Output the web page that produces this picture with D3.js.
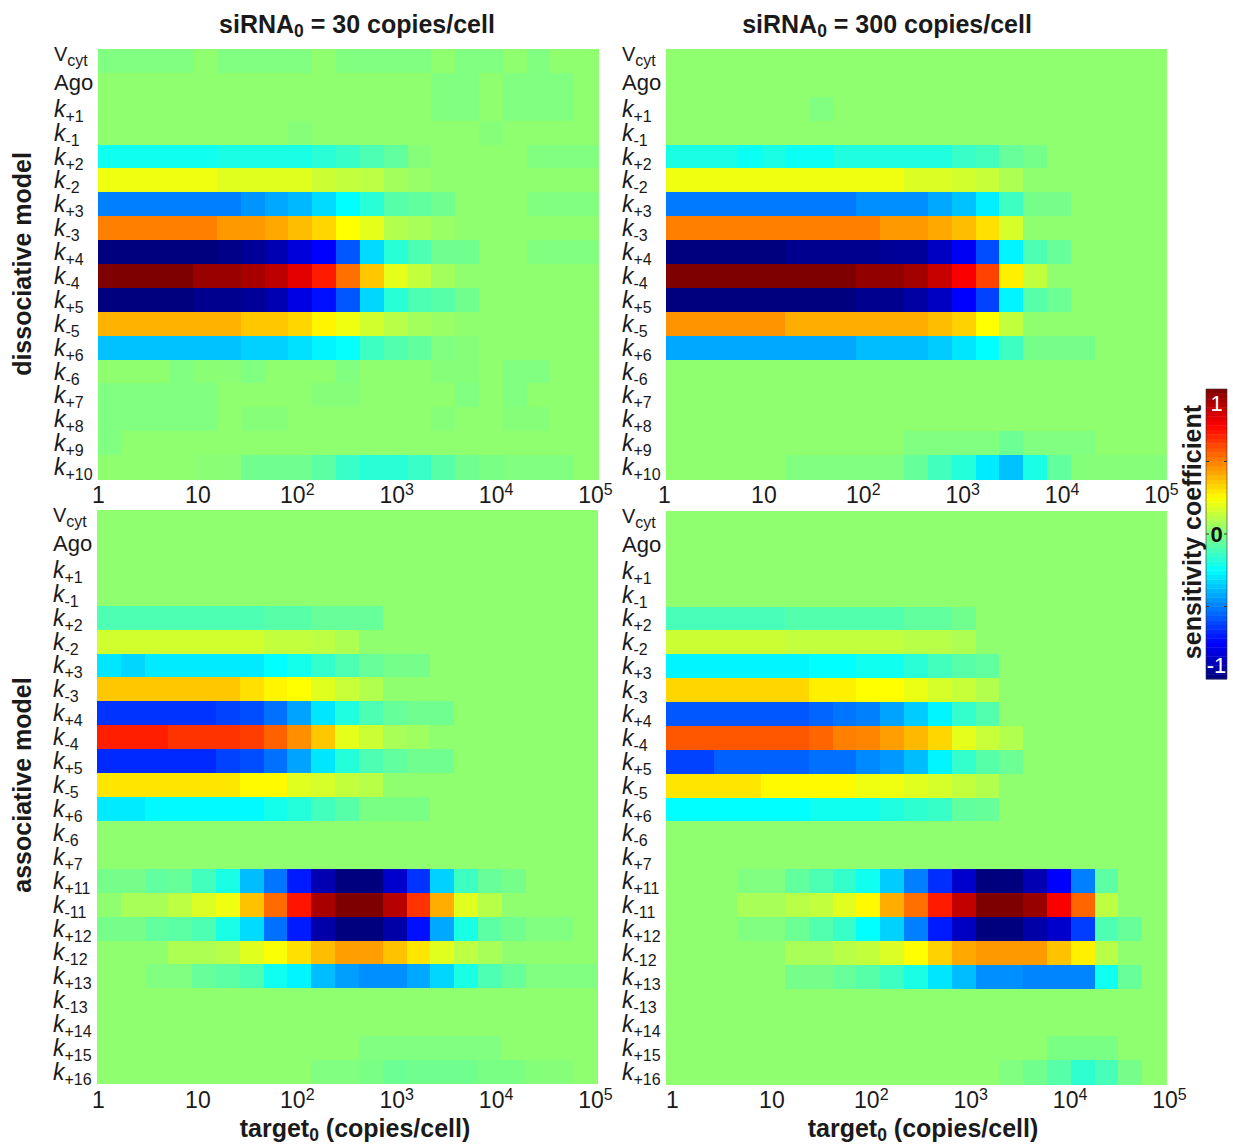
<!DOCTYPE html>
<html>
<head>
<meta charset="utf-8">
<script src="https://cdn.jsdelivr.net/npm/d3@7"></script>
<style>
  body { margin: 0; background: #fff; }
  text { font-family: "Liberation Sans", Arial, sans-serif; fill: #1a1a1a; }
</style>
</head>
<body>
<script>
// row labels: [base, sign/sub, italic?]
const dissocRows = ['Vcyt', 'Ago', 'k+1', 'k-1', 'k+2', 'k-2', 'k+3', 'k-3', 'k+4', 'k-4', 'k+5', 'k-5', 'k+6', 'k-6', 'k+7', 'k+8', 'k+9', 'k+10'];
const assocRows = ['Vcyt', 'Ago', 'k+1', 'k-1', 'k+2', 'k-2', 'k+3', 'k-3', 'k+4', 'k-4', 'k+5', 'k-5', 'k+6', 'k-6', 'k+7', 'k+11', 'k-11', 'k+12', 'k-12', 'k+13', 'k-13', 'k+14', 'k+15', 'k+16'];
const xTicks = [1, 10, 100, 1000, 10000, 100000];
const titles = ['30', '300'];

// sensitivity coefficient x100, one row per parameter, 21 target levels per row
const dissoc30 = [
  [0,0,0,0,3,0,0,0,0,3,0,0,0,0,3,0,0,3,0,3,3],
  [3,3,3,3,3,3,3,3,3,3,3,3,3,3,0,0,3,0,0,0,3],
  [3,3,3,3,3,3,3,3,3,3,3,3,3,3,0,0,3,0,0,0,3],
  [3,3,3,3,3,3,3,3,1,3,3,3,3,3,3,3,1,3,3,3,3],
  [-22,-22,-22,-22,-22,-20,-20,-20,-20,-17,-14,-10,-6,1,3,3,3,3,0,0,0],
  [22,22,22,22,22,19,19,19,19,15,13,12,7,5,3,3,3,3,3,3,3],
  [-50,-50,-50,-50,-50,-50,-46,-42,-39,-32,-25,-17,-8,-6,-3,3,3,3,0,0,0],
  [50,50,50,50,50,45,45,42,38,33,25,20,10,8,5,3,3,3,3,3,3],
  [-100,-100,-100,-100,-100,-98,-95,-90,-82,-75,-58,-32,-17,-10,-3,-3,3,3,0,0,0],
  [100,100,100,100,95,95,92,88,80,70,53,36,20,13,7,3,3,3,3,3,3],
  [-100,-100,-100,-100,-97,-97,-95,-90,-80,-72,-58,-33,-17,-10,-8,-3,3,3,3,3,3],
  [40,40,40,40,40,40,36,36,33,27,22,16,11,7,5,3,3,3,3,3,3],
  [-37,-37,-37,-37,-37,-37,-34,-34,-31,-27,-24,-13,-9,-6,0,1,3,3,3,3,3],
  [3,3,3,0,2,2,0,3,3,3,0,3,3,3,1,1,3,0,0,3,3],
  [0,0,0,0,0,3,3,3,3,1,1,3,3,3,3,0,3,0,3,3,3],
  [0,0,0,0,0,3,1,1,3,3,3,3,3,3,1,3,3,1,1,3,3],
  [0,3,3,3,3,3,3,3,3,3,3,3,3,3,3,3,3,3,3,3,3],
  [3,3,3,3,2,2,-3,-3,-3,-7,-14,-17,-17,-14,-8,-3,-1,0,0,0,3]
];
const dissoc300 = [
  [3,3,3,3,3,3,3,3,3,3,3,3,3,3,3,3,3,3,3,3,3],
  [3,3,3,3,3,3,3,3,3,3,3,3,3,3,3,3,3,3,3,3,3],
  [3,3,3,3,3,3,0,3,3,3,3,3,3,3,3,3,3,3,3,3,3],
  [3,3,3,3,3,3,3,3,3,3,3,3,3,3,3,3,3,3,3,3,3],
  [-20,-20,-20,-23,-20,-23,-23,-19,-19,-19,-19,-19,-14,-12,-5,-2,3,3,3,3,3],
  [22,22,22,22,22,22,22,22,22,22,18,18,16,14,9,3,3,3,3,3,3],
  [-51,-51,-51,-51,-51,-51,-51,-51,-47,-47,-47,-42,-37,-28,-13,-2,-2,3,3,3,3],
  [50,50,50,50,50,50,50,50,50,45,45,42,38,31,17,3,3,3,3,3,3],
  [-100,-100,-100,-100,-100,-97,-97,-97,-97,-95,-95,-87,-77,-60,-27,-10,-5,3,3,3,3],
  [100,100,100,100,100,100,100,100,96,96,93,86,76,62,28,13,3,3,3,3,3],
  [-100,-100,-100,-100,-100,-100,-100,-100,-97,-97,-93,-87,-75,-62,-27,-8,-4,3,3,3,3],
  [46,46,46,46,46,41,41,41,41,41,41,38,34,25,13,3,3,3,3,3,3],
  [-42,-42,-42,-42,-42,-42,-42,-42,-38,-38,-38,-35,-30,-25,-13,-2,-2,-2,3,3,3],
  [3,3,3,3,3,3,3,3,3,3,3,3,3,3,3,3,3,3,3,3,3],
  [3,3,3,3,3,3,3,3,3,3,3,3,3,3,3,3,3,3,3,3,3],
  [3,3,3,3,3,3,3,3,3,3,3,3,3,3,3,3,3,3,3,3,3],
  [3,3,3,3,3,3,3,3,3,3,0,0,0,0,-4,0,0,0,3,3,3],
  [3,3,3,3,3,0,0,0,0,0,-5,-12,-18,-29,-37,-20,-6,1,1,1,1]
];
const assoc30 = [
  [3,3,3,3,3,3,3,3,3,3,3,3,3,3,3,3,3,3,3,3,3],
  [3,3,3,3,3,3,3,3,3,3,3,3,3,3,3,3,3,3,3,3,3],
  [3,3,3,3,3,3,3,3,3,3,3,3,3,3,3,3,3,3,3,3,3],
  [3,3,3,3,3,3,3,3,3,3,3,3,3,3,3,3,3,3,3,3,3],
  [-10,-10,-10,-10,-10,-10,-10,-8,-8,-5,-5,-5,3,3,3,3,3,3,3,3,3],
  [16,16,16,16,16,16,16,13,13,12,9,3,3,3,3,3,3,3,3,3,3],
  [-30,-33,-29,-29,-29,-29,-29,-25,-21,-15,-10,-5,-2,-2,3,3,3,3,3,3,3],
  [36,36,36,36,36,36,31,27,25,19,14,10,3,3,3,3,3,3,3,3,3],
  [-65,-65,-65,-65,-65,-62,-60,-53,-43,-30,-19,-10,-5,-3,-3,3,3,3,3,3,3],
  [69,69,69,65,65,65,63,56,47,36,20,15,8,6,3,3,3,3,3,3,3],
  [-67,-67,-67,-67,-67,-62,-60,-53,-43,-30,-18,-10,-6,-3,-3,3,3,3,3,3,3],
  [30,30,30,30,30,30,26,26,19,17,13,11,3,3,3,3,3,3,3,3,3],
  [-29,-29,-26,-26,-26,-26,-26,-21,-18,-12,-8,-1,-1,-1,3,3,3,3,3,3,3],
  [3,3,3,3,3,3,3,3,3,3,3,3,3,3,3,3,3,3,3,3,3],
  [3,3,3,3,3,3,3,3,3,3,3,3,3,3,3,3,3,3,3,3,3],
  [-2,-2,-6,-5,-12,-20,-38,-52,-70,-90,-100,-100,-85,-65,-34,-13,-5,-2,3,3,3],
  [3,8,8,12,18,22,37,54,71,92,100,100,89,65,41,19,11,3,3,3,3],
  [-2,-2,-6,-7,-10,-20,-32,-53,-70,-92,-100,-100,-92,-72,-42,-20,-7,-3,0,0,3],
  [3,3,3,9,9,11,19,24,31,38,44,44,37,30,19,12,8,3,3,3,3],
  [3,3,0,0,-5,-7,-10,-22,-27,-38,-44,-47,-47,-42,-33,-20,-10,-5,0,0,0],
  [3,3,3,3,3,3,3,3,3,3,3,3,3,3,3,3,3,3,3,3,3],
  [3,3,3,3,3,3,3,3,3,3,3,3,3,3,3,3,3,3,3,3,3],
  [3,3,3,3,3,3,3,3,3,3,3,0,0,0,0,0,0,3,3,3,3],
  [3,3,3,3,3,3,3,3,3,0,0,-1,-4,-3,-3,-3,-1,-1,1,1,3]
];
const assoc300 = [
  [3,3,3,3,3,3,3,3,3,3,3,3,3,3,3,3,3,3,3,3,3],
  [3,3,3,3,3,3,3,3,3,3,3,3,3,3,3,3,3,3,3,3,3],
  [3,3,3,3,3,3,3,3,3,3,3,3,3,3,3,3,3,3,3,3,3],
  [3,3,3,3,3,3,3,3,3,3,3,3,3,3,3,3,3,3,3,3,3],
  [-11,-11,-11,-11,-11,-9,-9,-9,-9,-9,-6,-6,-3,3,3,3,3,3,3,3,3],
  [15,15,15,15,15,13,13,13,13,13,11,11,9,3,3,3,3,3,3,3,3],
  [-27,-27,-27,-27,-27,-27,-25,-25,-22,-22,-17,-12,-8,-6,3,3,3,3,3,3,3],
  [33,33,33,33,33,33,28,28,25,25,21,17,14,10,3,3,3,3,3,3,3],
  [-58,-58,-58,-58,-58,-58,-55,-52,-50,-43,-35,-27,-15,-9,3,3,3,3,3,3,3],
  [58,58,58,58,58,58,55,50,49,44,39,33,20,14,10,3,3,3,3,3,3],
  [-62,-62,-56,-56,-56,-56,-53,-53,-48,-45,-38,-27,-15,-8,-4,3,3,3,3,3,3],
  [30,30,30,30,26,26,26,26,22,22,19,17,13,10,3,3,3,3,3,3,3],
  [-25,-25,-25,-25,-25,-25,-22,-22,-22,-19,-16,-14,-6,-5,3,3,3,3,3,3,3],
  [3,3,3,3,3,3,3,3,3,3,3,3,3,3,3,3,3,3,3,3,3],
  [3,3,3,3,3,3,3,3,3,3,3,3,3,3,3,3,3,3,3,3,3],
  [3,3,3,0,0,-6,-10,-15,-22,-35,-50,-66,-85,-100,-100,-90,-75,-50,-7,3,3],
  [3,3,3,8,8,11,13,19,26,41,53,70,87,100,100,95,76,55,12,3,3],
  [3,3,3,0,0,-4,-9,-14,-25,-34,-50,-70,-87,-100,-100,-92,-85,-63,-10,-5,3],
  [3,3,3,3,3,8,8,11,13,18,25,34,42,45,45,45,37,28,11,3,3],
  [3,3,3,3,3,-2,-2,-5,-8,-13,-20,-30,-38,-47,-47,-49,-49,-49,-22,-5,3],
  [3,3,3,3,3,3,3,3,3,3,3,3,3,3,3,3,3,3,3,3,3],
  [3,3,3,3,3,3,3,3,3,3,3,3,3,3,3,3,3,3,3,3,3],
  [3,3,3,3,3,3,3,3,3,3,3,3,3,3,3,3,-1,-1,-1,3,3],
  [3,3,3,3,3,3,3,3,3,3,3,3,3,3,0,-3,-8,-16,-11,-2,3]
];

const width = 1233, height = 1144;

const jet = d3.scaleLinear()
  .domain([-1, -0.75, -0.25, 0.25, 0.75, 1])
  .range(['#00007f', '#0000ff', '#00ffff', '#ffff00', '#ff0000', '#7f0000'])
  .interpolate(d3.interpolateRgb);

const svg = d3.select('body').append('svg')
  .attr('width', width)
  .attr('height', height)
  .style('display', 'block');

// sub = subscript text, `k` names are set in italics
function rowLabel(sel, name) {
  sel.text(null);
  if (name === 'Ago') {
    sel.attr('dy', 5);
    sel.append('tspan').attr('font-size', 22).text('Ago');
    return;
  }
  if (name === 'Vcyt') {
    sel.attr('dy', 0);
    sel.append('tspan').attr('font-size', 20).text('V');
  } else {
    sel.attr('dy', 8);
    sel.append('tspan').attr('font-size', 23).attr('font-style', 'italic').text('k');
  }
  sel.append('tspan').attr('font-size', 16).attr('dy', 5).text(name.slice(1));
}

function drawPanel(p) {
  const g = svg.append('g').attr('transform', `translate(${p.x},${p.y})`);

  const xCell = d3.scaleBand().domain(d3.range(21)).range([0, p.w]);
  const yCell = d3.scaleBand().domain(p.rows).range([0, p.h]);
  const xLog = d3.scaleLog().domain([1, 100000]).range([p.tickShift, p.tickShift + 497]);

  g.selectAll('.row')
    .data(p.values)
    .enter().append('g')
    .attr('class', 'row')
    .attr('transform', (d, i) => `translate(0,${yCell(p.rows[i])})`)
    .selectAll('rect')
    .data(d => d)
    .enter().append('rect')
    .attr('x', (d, j) => xCell(j))
    .attr('width', xCell.bandwidth() + 0.5)
    .attr('height', yCell.bandwidth() + 0.5)
    .attr('shape-rendering', 'crispEdges')
    .attr('fill', d => jet(d / 100));

  // row labels
  const yAxis = g.append('g').call(d3.axisLeft(yCell).tickSize(0));
  yAxis.select('.domain').remove();
  yAxis.selectAll('text')
    .attr('x', -44)
    .attr('text-anchor', 'start')
    .each(function (name) { rowLabel(d3.select(this), name); });

  // target level ticks
  const xAxis = g.append('g')
    .attr('transform', `translate(0,${p.h})`)
    .call(d3.axisBottom(xLog).tickValues(xTicks).tickSize(0));
  xAxis.select('.domain').remove();
  xAxis.selectAll('text')
    .attr('y', 24)
    .attr('dy', 0)
    .each(function (d) {
      const t = d3.select(this).text(null);
      const e = Math.round(Math.log10(d));
      t.append('tspan').attr('font-size', 23).text(e === 0 ? '1' : '10');
      if (e > 1) t.append('tspan').attr('font-size', 16).attr('dy', -8).text(e);
    });
}

function subText(x, y, a, sub, b, size) {
  const t = svg.append('text')
    .attr('x', x).attr('y', y)
    .attr('text-anchor', 'middle')
    .attr('font-weight', 'bold')
    .attr('font-size', size);
  t.append('tspan').text(a);
  t.append('tspan').attr('font-size', size * 0.7).attr('dy', 4).text(sub);
  t.append('tspan').attr('dy', -4).text(b);
}

function rotated(x, y, label) {
  svg.append('text')
    .attr('transform', `translate(${x},${y}) rotate(-90)`)
    .attr('text-anchor', 'middle')
    .attr('font-weight', 'bold')
    .attr('font-size', 25)
    .text(label);
}

drawPanel({ x: 98, y: 49, w: 500, h: 430, rows: dissocRows, values: dissoc30, tickShift: 0 });
drawPanel({ x: 666, y: 49, w: 500, h: 430, rows: dissocRows, values: dissoc300, tickShift: -2 });
drawPanel({ x: 97, y: 510, w: 500, h: 574, rows: assocRows, values: assoc30, tickShift: 1 });
drawPanel({ x: 666, y: 511, w: 500, h: 573, rows: assocRows, values: assoc300, tickShift: 6 });

subText(357, 33, 'siRNA', '0', ` = ${titles[0]} copies/cell`, 25);
subText(887, 33, 'siRNA', '0', ` = ${titles[1]} copies/cell`, 25);
subText(355, 1137, 'target', '0', ' (copies/cell)', 25);
subText(923, 1137, 'target', '0', ' (copies/cell)', 25);
rotated(31, 264, 'dissociative model');
rotated(31, 785, 'associative model');

// colour bar
const barX = 1206, barW = 21;
const barY = d3.scaleLinear().domain([1, -1]).range([389, 679]);
const levels = d3.range(-1, 1, 1 / 32);
svg.append('g').selectAll('rect')
  .data(levels)
  .enter().append('rect')
  .attr('x', barX)
  .attr('width', barW)
  .attr('y', d => barY(d + 1 / 32))
  .attr('height', barY(-1) - barY(-1 + 1 / 32) + 0.4)
  .attr('fill', d => jet(d + 1 / 64));
svg.append('rect')
  .attr('x', barX).attr('y', barY(1))
  .attr('width', barW).attr('height', barY(-1) - barY(1))
  .attr('fill', 'none').attr('stroke', '#333').attr('stroke-width', 0.6);
[0.5, 0, -0.5].forEach(v => {
  svg.append('line').attr('x1', barX).attr('x2', barX + 3).attr('y1', barY(v)).attr('y2', barY(v)).attr('stroke', '#333');
  svg.append('line').attr('x1', barX + barW - 3).attr('x2', barX + barW).attr('y1', barY(v)).attr('y2', barY(v)).attr('stroke', '#333');
});
const barLabels = [[1, '1', '#fff', 'normal'], [0, '0', '#111', 'bold'], [-1, '-1', '#fff', 'normal']];
svg.selectAll('.barlabel')
  .data(barLabels)
  .enter().append('text')
  .attr('class', 'barlabel')
  .attr('x', barX + barW / 2)
  .attr('y', d => barY(d[0]) + (d[0] === 1 ? 22 : d[0] === 0 ? 8 : -6))
  .attr('text-anchor', 'middle')
  .attr('font-size', 22)
  .attr('font-weight', d => d[3])
  .style('fill', d => d[2])
  .text(d => d[1]);
rotated(1201, 532, 'sensitivity coefficient');
</script>
</body>
</html>
